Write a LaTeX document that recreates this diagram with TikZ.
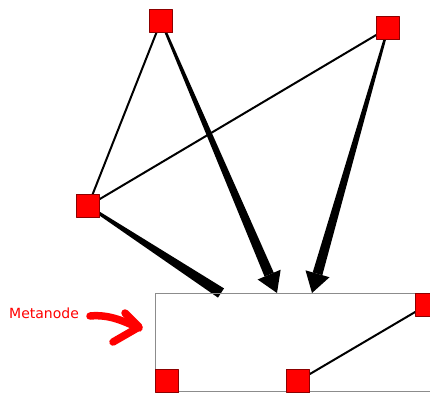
\documentclass[tikz,border=0pt]{standalone}
\usepackage{fontspec}
\newfontfamily\labelfont{DejaVu Sans}
\usetikzlibrary{calc, arrows.meta, backgrounds}

% tapered connector: from, to, half width at start, half width at end
\newcommand{\wedgeline}[4]{%
  \fill ($(#1)!#3!90:(#2)$) -- ($(#2)!#4!-90:(#1)$) -- ($(#2)!#4!90:(#1)$) -- ($(#1)!#3!-90:(#2)$) -- cycle;}
% tapered connector with a triangular head at its end
\newcommand{\wedgearrow}[4]{%
  \coordinate (hb) at ($(#2)!20pt!(#1)$);
  \wedgeline{#1}{hb}{#3}{#4}
  \fill ($(hb)!12.5pt!90:(#2)$) -- (#2) -- ($(hb)!12.5pt!-90:(#2)$) -- cycle;}

\begin{document}
\begin{tikzpicture}[x=1pt, y=-1pt, line cap=round, line join=round,
    vertex/.style={draw=red!55!black, fill=red, line width=0.6pt, minimum size=23pt, inner sep=0pt},
    thinedge/.style={line width=2pt},
    metabox/.style={draw=black!45, line width=1.4pt, anchor=north west, inner sep=0pt},
    handarrow/.style={red, line width=7.5pt}]
  \useasboundingbox (0,0) rectangle (430,392);
  \clip (0,0) rectangle (430,392);

  % the metanode, running off the page at the right
  \node[metabox, minimum width=300pt, minimum height=98pt] (meta) at (155,293) {};

  % outer vertices
  \node[vertex] (A) at (161,21) {};
  \node[vertex] (B) at (388,28) {};
  \node[vertex] (C) at (88,206) {};

  % vertices inside the metanode
  \node[vertex] (D) at (167,381) {};
  \node[vertex] (E) at (298,381) {};
  \node[vertex] (F) at (427,305) {};

  % where the heavy edges meet the metanode
  \coordinate (tA) at (277,293);
  \coordinate (tB) at (312,293);
  \coordinate (tC) at (221,293);

  \begin{scope}[on background layer]
    \draw[thinedge] (A) -- (C);
    \draw[thinedge] (B) -- (C);
    \draw[thinedge] (E) -- (F);
    \wedgearrow{A}{tA}{1.1pt}{5pt}
    \wedgearrow{B}{tB}{1.1pt}{5pt}
    \wedgeline{C}{tC}{1.3pt}{5.5pt}
  \end{scope}

  % label with a hand drawn arrow
  \node[text=red, font=\labelfont\fontsize{14}{16}\selectfont, anchor=west, inner sep=0pt] (lbl) at (9,313) {Metanode};
  \draw[handarrow] (90,316) .. controls (110,314) and (125,322) .. (139,328);
  \draw[handarrow] (125,313) -- (139,327) -- (113,342);
\end{tikzpicture}
\end{document}
